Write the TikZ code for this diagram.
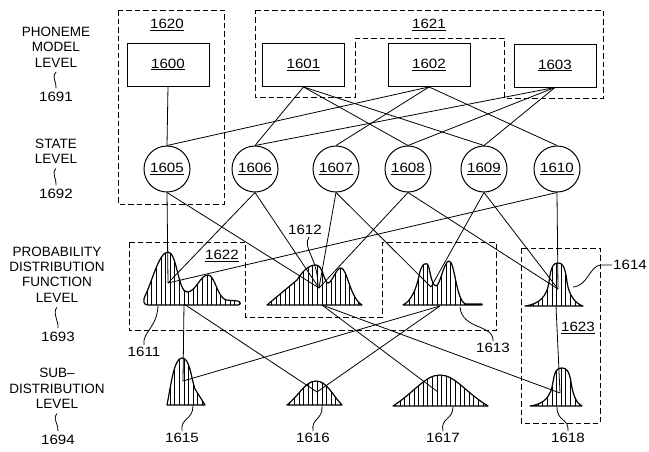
\documentclass[tikz,border=0pt]{standalone}
\usepackage{fontspec}
\setmainfont{Liberation Sans}
\newfontfamily\numfont[FakeStretch=1.12]{Liberation Sans}
\usetikzlibrary{patterns.meta}
\begin{document}
\begin{tikzpicture}[x=1pt,y=-1pt,
  lbl/.style={font=\fontsize{13.5}{15.3}\selectfont, align=center, inner sep=0pt},
  num/.style={font=\numfont\fontsize{13.5}{15}\selectfont, inner sep=0pt},
  phbox/.style={draw, line width=0.9pt, minimum width=82pt, minimum height=43pt,
    inner sep=0pt, font=\numfont\fontsize{13.5}{15}\selectfont},
  statenode/.style={draw, circle, line width=1pt, minimum size=46pt, inner sep=0pt,
    font=\numfont\fontsize{13.5}{15}\selectfont},
  group/.style={draw, line width=0.9pt, dash pattern=on 5.5pt off 3pt},
  link/.style={line width=0.8pt},
  leader/.style={line width=0.8pt},
  pdf/.style={line width=1.2pt, line join=round,
    pattern={Lines[angle=90,distance=4.6pt,line width=0.65pt]}},
]
\useasboundingbox (0,0) rectangle (649,451);

% ---------- level captions ----------
\node[lbl] (lv1) at (56,47) {PHONEME\\MODEL\\LEVEL};
\node[num] (r1691) at (56,97) {1691};
\node[lbl] (lv2) at (56,151) {STATE\\LEVEL};
\node[num] (r1692) at (56,194) {1692};
\node[lbl] (lv3) at (57,274.5) {PROBABILITY\\DISTRIBUTION\\FUNCTION\\LEVEL};
\node[num] (r1693) at (58,337) {1693};
\node[lbl] (lv4) at (57,388.5) {SUB–\\DISTRIBUTION\\LEVEL};
\node[num] (r1694) at (58,440) {1694};
\foreach \a/\b in {lv1/r1691, lv2/r1692, lv3/r1693, lv4/r1694}
  \draw[leader] ([yshift=-5pt]\a.south) .. controls +(-5,5) and +(1,-6) .. ([yshift=4pt]\b.north);

% ---------- grouping outlines ----------
\draw[group] (118,10) rectangle (224,204);
\node[num] (g1620) at (167,25) {\underline{1620}};
\draw[group] (255,10) -- (603,10) -- (603,98) -- (504,98) -- (504,38)
  -- (355,38) -- (355,97) -- (255,97) -- cycle;
\node[num] (g1621) at (429,25) {\underline{1621}};
\draw[group] (129,242) -- (245,242) -- (245,317) -- (382,317) -- (382,242)
  -- (496,242) -- (496,330) -- (129,330) -- cycle;
\node[num] (g1622) at (222,256) {\underline{1622}};
\draw[group] (521,248) rectangle (600,423);
\node[num] (g1623) at (578,328) {\underline{1623}};

% ---------- phoneme models ----------
\node[phbox] (n1600) at (168,64.5) {\underline{1600}};
\node[phbox] (n1601) at (303.5,65) {\underline{1601}};
\node[phbox] (n1602) at (429,65) {\underline{1602}};
\node[phbox] (n1603) at (555,65.5) {\underline{1603}};

% ---------- states ----------
\node[statenode] (n1605) at (167,169) {\underline{1605}};
\node[statenode] (n1606) at (255,169) {\underline{1606}};
\node[statenode] (n1607) at (336,169) {\underline{1607}};
\node[statenode] (n1608) at (408,169) {\underline{1608}};
\node[statenode] (n1609) at (484,169) {\underline{1609}};
\node[statenode] (n1610) at (557,169) {\underline{1610}};

% ---------- probability distribution functions ----------
\draw[pdf] (148,305) .. controls (143,305) and (143,300) .. (145,296)
  .. controls (152,282) and (159,252) .. (168,252)
  .. controls (177,252) and (178,292) .. (187,292)
  .. controls (196,292) and (200,275) .. (208,275)
  .. controls (215,275) and (217,297) .. (226,300)
  -- (238,301) .. controls (241,302) and (241,305) .. (238,305) -- cycle;
\draw[pdf] (267,305) -- (297,280) .. controls (302,272) and (308,265) .. (316,265)
  .. controls (323,265) and (324,283) .. (328,283)
  .. controls (332,283) and (336,268) .. (341,268)
  .. controls (347,268) and (350,298) .. (362,305) -- cycle;
\draw[pdf] (403,305) .. controls (411,301) and (416,290) .. (419,276)
  .. controls (421,264) and (427,259) .. (429,268)
  .. controls (431,278) and (433,286) .. (436,286)
  .. controls (440,286) and (444,261) .. (449,261)
  .. controls (455,261) and (456,302) .. (466,304) -- (482,304) -- (482,305) -- cycle;
\draw[pdf] (525,306) .. controls (540,304) and (547,296) .. (549,282)
  .. controls (551,265) and (554,263) .. (558,263)
  .. controls (562,263) and (565,265) .. (567,282)
  .. controls (569,296) and (576,304) .. (583,306) -- cycle;

% ---------- sub-distributions ----------
\draw[pdf] (167,405) .. controls (171,385) and (174,358) .. (182,358)
  .. controls (190,358) and (191,378) .. (195,389) -- (205,405) -- cycle;
\draw[pdf] (287,405) .. controls (298,397) and (305,381) .. (316,381)
  .. controls (327,381) and (333,396) .. (342,405) -- cycle;
\draw[pdf] (393,406) .. controls (415,392) and (425,375) .. (440,375)
  .. controls (455,375) and (465,392) .. (488,406) -- cycle;
\draw[pdf] (530,406) .. controls (545,404) and (551,396) .. (553,382)
  .. controls (555,369) and (558,368) .. (562,368)
  .. controls (566,368) and (569,370) .. (571,382)
  .. controls (573,396) and (577,404) .. (582,406) -- cycle;

% connection points of the distributions
\coordinate (c1611) at (168,283); \coordinate (o1611) at (184,304);
\coordinate (c1612) at (319,288); \coordinate (o1612) at (322,305);
\coordinate (c1613) at (431,287); \coordinate (o1613) at (440,306);
\coordinate (c1614) at (558,289); \coordinate (o1614) at (556,306);
\coordinate (c1615) at (183,381);
\coordinate (c1616) at (317,392);
\coordinate (c1617) at (438,392);
\coordinate (c1618) at (560,393);

% ---------- links ----------
\draw[link] (n1600.south) -- (n1605.north);
\foreach \s in {1606,1608,1609} \draw[link] (n1601.south) -- (n\s.north);
\foreach \s in {1605,1607,1610} \draw[link] (n1602.south) -- (n\s.north);
\foreach \s in {1606,1608,1609} \draw[link] (n1603.south) -- (n\s.north);

\foreach \a/\b in {1605/1611,1605/1612,1606/1611,1606/1612,1607/1612,1607/1613,
                   1608/1612,1608/1614,1609/1613,1609/1614,1610/1611,1610/1614}
  \draw[link] (n\a.south) -- (c\b);

\foreach \a/\b in {1611/1615,1611/1616,1612/1617,1612/1618,1613/1615,1613/1616,1614/1618}
  \draw[link] (o\a) -- (c\b);

% ---------- reference numerals with leaders ----------
\node[num] (t1611) at (144,352) {1611};
\node[num] (t1612) at (305,230) {1612};
\node[num] (t1613) at (493,348) {1613};
\node[num, anchor=west] (t1614) at (613,265) {1614};
\node[num] (t1615) at (182,438) {1615};
\node[num] (t1616) at (313,438) {1616};
\node[num] (t1617) at (443,438) {1617};
\node[num] (t1618) at (568,438) {1618};

\coordinate (f1611) at (158,306);
\coordinate (f1612) at (318,286);
\coordinate (f1613) at (460,307);
\coordinate (f1614) at (573,287);
\coordinate (f1615) at (193,406);
\coordinate (f1616) at (322,406);
\coordinate (f1617) at (453,407);
\coordinate (f1618) at (557,407);

\draw[leader] ([yshift=2pt]t1611.north) .. controls (142,332) and (157,328) .. (f1611);
\draw[leader] ([xshift=4pt,yshift=-2pt]t1612.south) .. controls (302,248) and (318,258) .. (f1612);
\draw[leader] ([yshift=2pt]t1613.north) .. controls (494,324) and (462,330) .. (f1613);
\draw[leader] ([xshift=-1pt]t1614.west) -- (601,265) .. controls (590,265) and (588,286) .. (f1614);
\draw[leader] ([yshift=2pt]t1615.north) .. controls (180,418) and (193,420) .. (f1615);
\draw[leader] ([yshift=2pt]t1616.north) .. controls (311,418) and (323,420) .. (f1616);
\draw[leader] ([yshift=2pt]t1617.north) .. controls (440,418) and (453,420) .. (f1617);
\draw[leader] ([yshift=2pt]t1618.north) .. controls (569,418) and (557,422) .. (f1618);
\end{tikzpicture}
\end{document}
